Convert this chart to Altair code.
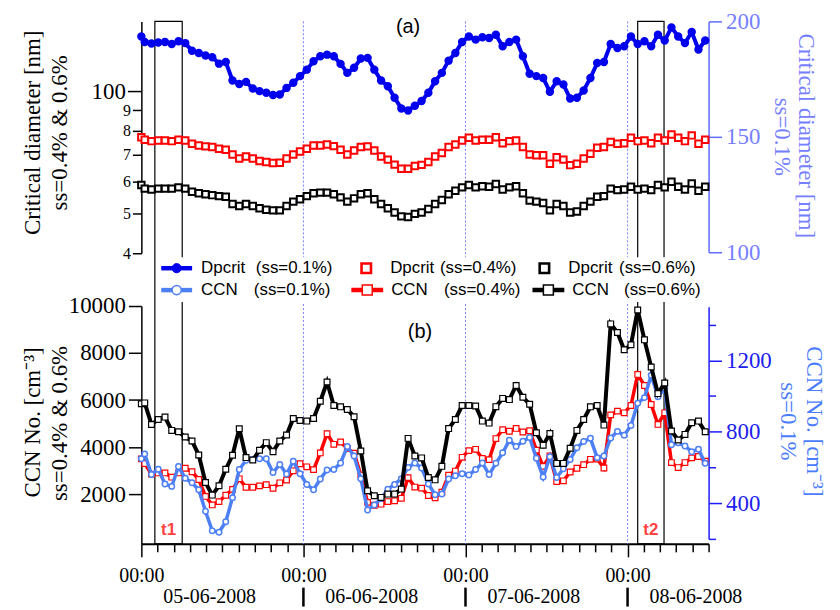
import altair as alt
import pandas as pd

# ---------------- data ----------------
# hourly means centred on the half hour, plus the starting point at 00:00 on 05-06-2008
hours = [0.0] + [k + 0.5 for k in range(84)]

# (a) critical diameter [nm]
dpcrit_01 = [193.5,
             191.1, 190.4, 190.9, 191.1, 190.2, 191.4, 190.6, 187.3, 186.3, 185.2,
             184.5, 181.7, 182.4, 174.4, 172.9, 173.8, 170.9, 169.8, 169.1, 168.1,
             168.3, 171.2, 173.4, 176.3, 179.1, 182.7, 184.9, 185.6, 184.9, 181.6,
             177.7, 179.9, 183.9, 184.2, 179.1, 174.4, 171.9, 166.9, 162.3, 161.4,
             163.5, 165.5, 169.1, 174.1, 177.7, 183.0, 186.3, 191.1, 193.5, 192.1,
             193.1, 192.8, 194.2, 189.2, 191.1, 192.1, 184.9, 177.3, 176.3, 175.5,
             169.5, 174.1, 172.7, 166.6, 166.9, 170.1, 175.5, 182.0, 182.4, 190.2,
             188.5, 189.2, 193.5, 190.2, 191.4, 189.2, 194.2, 191.7, 197.4, 193.5,
             190.6, 195.4, 187.8, 191.7]
dpcrit_04 = [77.2,
             76.1, 75.5, 75.8, 75.8, 75.5, 76.1, 75.8, 74.4, 73.7, 73.3,
             73.0, 72.3, 71.9, 70.0, 68.4, 69.2, 68.4, 67.5, 67.1, 66.7,
             66.8, 68.4, 70.0, 71.2, 72.3, 73.7, 73.7, 74.1, 73.4, 71.9,
             70.0, 71.6, 73.0, 73.3, 71.6, 69.2, 68.0, 66.1, 64.6, 64.6,
             65.6, 66.0, 67.1, 69.2, 70.6, 73.0, 74.1, 75.8, 77.0, 75.8,
             76.1, 76.1, 77.2, 74.6, 75.5, 75.8, 73.0, 70.0, 69.7, 69.7,
             66.4, 68.9, 68.0, 65.9, 66.4, 68.4, 70.3, 72.7, 73.0, 75.1,
             74.4, 74.6, 77.0, 75.5, 75.8, 74.6, 77.0, 75.8, 78.4, 77.0,
             75.5, 78.0, 74.4, 76.1]
dpcrit_06 = [58.9,
             57.7, 57.4, 57.7, 57.7, 57.7, 58.1, 57.7, 56.7, 56.2, 55.9,
             55.6, 55.3, 55.1, 52.9, 52.3, 52.9, 52.3, 51.6, 51.2, 51.0,
             51.0, 52.3, 53.6, 54.3, 55.3, 56.2, 56.4, 56.4, 55.9, 54.9,
             53.6, 54.6, 55.9, 56.2, 54.3, 52.9, 51.6, 50.4, 49.3, 49.1,
             50.0, 50.4, 51.4, 52.9, 54.1, 55.9, 57.0, 58.1, 58.9, 58.1,
             58.5, 58.3, 59.2, 57.4, 58.1, 58.5, 56.2, 53.9, 53.6, 53.2,
             51.0, 52.9, 52.3, 50.4, 50.7, 52.3, 53.6, 55.1, 55.3, 57.7,
             57.2, 57.4, 58.3, 57.4, 57.7, 57.2, 58.9, 58.1, 60.0, 58.3,
             57.4, 59.4, 57.0, 58.3]

# (b) CCN number concentration [cm-3]
ccn_01 = [649,
          676, 560, 590, 507, 494, 605, 540, 514, 475, 355,
          245, 237, 296, 431, 588, 640, 644, 649, 649, 572,
          616, 563, 635, 565, 505, 475, 535, 586, 588, 625,
          717, 664, 537, 362, 390, 426, 478, 505, 537, 600,
          625, 597, 508, 447, 451, 535, 554, 565, 558, 588,
          625, 560, 623, 682, 752, 717, 747, 768, 651, 546,
          660, 544, 593, 645, 710, 745, 763, 655, 664, 765,
          802, 780, 835, 960, 991, 1116, 996, 1043, 727, 738,
          720, 688, 702, 623]
ccn_04 = [3500,
          3300, 2850, 2900, 2900, 2720, 2900, 3100, 2950, 2620, 1900,
          1540, 1680, 1950, 2200, 2650, 2290, 2290, 2350, 2400, 2250,
          2480, 2600, 2990, 3290, 3160, 3040, 3750, 4568, 4117, 4215,
          3940, 3740, 2810, 1648, 1527, 1570, 1683, 1718, 1820, 2700,
          2300, 2254, 1940, 1845, 2085, 2805, 2980, 3565, 3850, 3905,
          3517, 3467, 4363, 4738, 4674, 4794, 4640, 4695, 3870, 3180,
          3620, 2530, 2565, 2940, 3100, 3250, 3480, 3490, 3110, 5370,
          5528, 5457, 5767, 7090, 6620, 5810, 4963, 5457, 3340, 3129,
          3340, 3540, 3600, 3400]
ccn_06 = [5840,
          5880, 4963, 5175, 5274, 4709, 4653, 4427, 4258, 3665, 2494,
          1958, 2353, 3058, 3651, 4780, 3552, 3453, 3862, 4187, 3806,
          4258, 4512, 5217, 5132, 5104, 5217, 5951, 6769, 5767, 5711,
          5598, 5288, 3834, 2141, 1930, 1859, 2000, 2000, 2212, 4370,
          3623, 3540, 2705, 2607, 3180, 4785, 5175, 5767, 5770, 5750,
          5104, 5020, 5720, 6070, 6020, 6620, 6120, 5820, 4610, 4080,
          4575, 3305, 3305, 3947, 4709, 5175, 5711, 5767, 4935, 9239,
          8872, 8138, 8350, 9831, 8561, 7404, 6275, 6727, 4681, 4300,
          4540, 5034, 5104, 4653]

day_starts = [0, 24, 48, 72]
date_labels = ["05-06-2008", "06-06-2008", "07-06-2008", "08-06-2008"]
box_start = [2.0, 73.5]
box_end = [6.05, 77.4]
box_mid = [4.03, 75.45]
box_labels = ["t1", "t2"]

# ---------------- tables ----------------
df = pd.DataFrame({"t": hours, "dp01": dpcrit_01, "dp04": dpcrit_04, "dp06": dpcrit_06,
                   "c01": ccn_01, "c04": ccn_04, "c06": ccn_06})
days = pd.DataFrame({"t": day_starts, "label": date_labels})
midnights = days[days["t"] > 0]
boxes = pd.DataFrame({"t": box_start, "t_end": box_end, "label": box_labels})
box_lab = pd.DataFrame({"t": box_mid, "label": box_labels})
one = pd.DataFrame({"z": [0]})

SERIF = "Liberation Serif"
SANS = "Liberation Sans"
W, H = 570, 525

# ---------------- scales & axes ----------------
xticks = [round(i * 2.4, 1) for i in range(36)]
x_axis = alt.Axis(values=xticks, labelExpr="datum.value % 24 == 0 ? '00:00' : ''",
                  tickSize={"condition": {"test": "datum.value % 24 == 0", "value": 13}, "value": 8},
                  labelFont=SERIF, labelFontSize=20, labelPadding=9, labelColor="black",
                  tickColor="black", domainColor="black", domainWidth=2, tickWidth=1.5,
                  grid=False, title=None, labelOverlap=False, labelFlush=False)
XS = alt.Scale(domain=[0, 84], nice=False, zero=False)
X = alt.X("t:Q", scale=XS, axis=x_axis)

s_top_right = alt.Scale(domain=[100, 200], range=[232, 0], nice=False, zero=False)
s_top_left = alt.Scale(type="log", domain=[40, 148.8], range=[233, 0], nice=False)
s_bot_left = alt.Scale(domain=[-117, 10000], range=[525, 286], nice=False, zero=False)
s_bot_right = alt.Scale(domain=[200, 1500], range=[520, 286.7], nice=False, zero=False)

ax_top_right = alt.Axis(orient="right", values=[100, 150, 200], tickSize=13, tickWidth=1.5,
                        tickColor="#5f6cff", domainColor="#5f6cff", domainWidth=1.5,
                        labelColor="#7680ff", labelFont=SERIF, labelFontSize=23, labelPadding=4,
                        grid=False, title=None, labelOverlap=False)
ax_top_left = alt.Axis(orient="left", values=[40, 50, 60, 70, 80, 90, 100],
                       labelExpr="datum.value == 100 ? '100' : format(datum.value / 10, 'd')",
                       labelFontSize={"condition": {"test": "datum.value == 100", "value": 23}, "value": 16},
                       tickSize={"condition": {"test": "datum.value == 100", "value": 14}, "value": 9},
                       tickWidth=1.5, tickColor="black", domainColor="black", domainWidth=1.5,
                       labelColor="black", labelFont=SERIF, labelPadding=2,
                       grid=False, title=None, labelOverlap=False)
ax_bot_left = alt.Axis(orient="left", values=[2000, 4000, 6000, 8000, 10000], tickSize=13,
                       tickWidth=1.5, tickColor="black", domainColor="black", domainWidth=1.5,
                       labelColor="black", labelFont=SERIF, labelFontSize=23, labelPadding=3,
                       grid=False, title=None, labelOverlap=False, format="d")
ax_bot_right = alt.Axis(orient="right", values=[200, 400, 600, 800, 1000, 1200, 1400],
                        labelExpr="datum.value % 400 == 0 ? datum.label : ''",
                        tickSize={"condition": {"test": "datum.value % 400 == 0", "value": 13}, "value": 7},
                        tickWidth=1.5, tickColor="#1d1dff", domainColor="#1d1dff", domainWidth=1.5,
                        labelColor="#2020ee", labelFont=SERIF, labelFontSize=23, labelPadding=4,
                        grid=False, title=None, labelOverlap=False, format="d")

# ---------------- background annotations ----------------
day_lines = alt.Chart(midnights).mark_rule(color="#7d7dff", strokeWidth=1, strokeDash=[2, 2]).encode(
    x=X, y=alt.value(0), y2=alt.value(H))
box_rects = alt.Chart(boxes).mark_rect(fillOpacity=0, stroke="black", strokeWidth=1.2).encode(
    x=X, x2="t_end:Q", y=alt.value(0), y2=alt.value(H))
legend_bg = alt.Chart(one).mark_rect(color="white").encode(
    x=alt.value(16), x2=alt.value(568), y=alt.value(237), y2=alt.value(282))

# ---------------- data layers ----------------
top_blue = alt.Chart(df).mark_line(
    color="#0000ee", strokeWidth=4,
    point=alt.OverlayMarkDef(filled=True, fill="#0000ee", stroke="#0000ee", size=42)).encode(
    x=X, y=alt.Y("dp01:Q", scale=s_top_right, axis=ax_top_right))
top_red = alt.Chart(df).mark_point(shape="square", filled=True, fill="white", stroke="#ff0000",
                                   strokeWidth=2, size=42, opacity=1).encode(
    x=X, y=alt.Y("dp04:Q", scale=s_top_left, axis=ax_top_left))
top_black = alt.Chart(df).mark_point(shape="square", filled=True, fill="white", stroke="black",
                                     strokeWidth=2, size=42, opacity=1).encode(
    x=X, y=alt.Y("dp06:Q", scale=s_top_left, axis=None))

bot_red = alt.Chart(df).mark_line(
    color="#ff0000", strokeWidth=3.5,
    point=alt.OverlayMarkDef(shape="square", filled=True, fill="white", stroke="#ff0000",
                             strokeWidth=1.2, size=32)).encode(
    x=X, y=alt.Y("c04:Q", scale=s_bot_left, axis=ax_bot_left))
bot_blue = alt.Chart(df).mark_line(
    color="#4d7ff5", strokeWidth=3.5,
    point=alt.OverlayMarkDef(shape="circle", filled=True, fill="white", stroke="#4d7ff5",
                             strokeWidth=1.5, size=30)).encode(
    x=X, y=alt.Y("c01:Q", scale=s_bot_right, axis=ax_bot_right))
bot_black = alt.Chart(df).mark_line(
    color="black", strokeWidth=4,
    point=alt.OverlayMarkDef(shape="square", filled=True, fill="white", stroke="black",
                             strokeWidth=1.2, size=34)).encode(
    x=X, y=alt.Y("c06:Q", scale=s_bot_left, axis=None))


# ---------------- helpers for text / legend ----------------
def txt(s, x, y, size, font=SANS, color="black", angle=0, align="center", weight="normal"):
    return alt.Chart(one).mark_text(text=s, fontSize=size, font=font, color=color, angle=angle,
                                    align=align, baseline="middle", fontWeight=weight).encode(
        x=alt.value(x), y=alt.value(y))


def hline(x1, x2, y, color, w):
    return alt.Chart(one).mark_rule(color=color, strokeWidth=w).encode(
        x=alt.value(x1), x2=alt.value(x2), y=alt.value(y))


def sym(x, y, shape, fill, stroke, size, sw):
    return alt.Chart(one).mark_point(shape=shape, filled=True, fill=fill, stroke=stroke, size=size,
                                     strokeWidth=sw, opacity=1).encode(x=alt.value(x), y=alt.value(y))


R1, R2 = 248, 270
legend = [
    hline(20, 51, R1, "#0000ee", 4.5), sym(35.5, R1, "circle", "#0000ee", "#0000ee", 85, 1),
    txt("Dpcrit", 60, R1, 17, align="left"), txt("(ss=0.1%)", 115, R1, 17, align="left"),
    hline(20, 51, R2, "#4d7ff5", 4.5), sym(35.5, R2, "circle", "white", "#4d7ff5", 85, 1.5),
    txt("CCN", 60, R2, 17, align="left"), txt("(ss=0.1%)", 113, R2, 17, align="left"),
    sym(226, R1, "square", "white", "#ff0000", 90, 2.6),
    txt("Dpcrit", 250, R1, 17, align="left"), txt("(ss=0.4%)", 300, R1, 17, align="left"),
    hline(211, 243, R2, "#ff0000", 4.5), sym(227, R2, "square", "white", "#ff0000", 100, 1.5),
    txt("CCN", 251, R2, 17, align="left"), txt("(ss=0.4%)", 304, R2, 17, align="left"),
    sym(405, R1, "square", "white", "black", 90, 2.6),
    txt("Dpcrit", 429, R1, 17, align="left"), txt("(ss=0.6%)", 480, R1, 17, align="left"),
    hline(393, 425, R2, "black", 4.5), sym(409, R2, "square", "white", "black", 100, 1.5),
    txt("CCN", 433, R2, 17, align="left"), txt("(ss=0.6%)", 485, R2, 17, align="left"),
]

labels = [
    txt("(a)", 268, 6, 20),
    txt("(b)", 280, 312, 20),
    # axis titles
    txt("Critical diameter [nm]", -109, 112, 23, font=SERIF, angle=270),
    txt("ss=0.4% & 0.6%", -82, 112, 23, font=SERIF, angle=270),
    txt("Critical diameter [nm]", 668, 115, 23, font=SERIF, color="#7680ff", angle=90),
    txt("ss=0.1%", 644, 116, 23, font=SERIF, color="#7680ff", angle=90),
    txt("CCN No. [cm⁻³]", -109, 403, 23, font=SERIF, angle=270),
    txt("ss=0.4% & 0.6%", -82, 404, 23, font=SERIF, angle=270),
    txt("CCN No. [cm⁻³]", 676, 402, 23, font=SERIF, color="#4a7cff", angle=90),
    txt("ss=0.1%", 650, 402, 23, font=SERIF, color="#4a7cff", angle=90),
]

box_text = alt.Chart(box_lab).mark_text(
    font=SANS, fontSize=17, fontWeight="bold", color="#ff4343", baseline="middle").encode(
    x=X, y=alt.value(511), text="label:N")

date_text = alt.Chart(days).mark_text(font=SERIF, fontSize=20, align="left", baseline="middle",
                                      dx=22, color="black").encode(
    x=X, y=alt.value(578), text="label:N")
date_sep = alt.Chart(midnights).mark_rule(color="black", strokeWidth=2.5).encode(
    x=X, y=alt.value(569), y2=alt.value(588))

chart = alt.layer(
    day_lines, box_rects, legend_bg,
    top_blue, top_red, top_black,
    bot_red, bot_blue, bot_black,
    *legend, *labels, box_text, date_text, date_sep,
).resolve_scale(y="independent").properties(
    width=W, height=H,
    padding={"left": 134, "top": 12, "right": 124, "bottom": 66},
    autosize=alt.AutoSizeParams(type="none"),
).configure_view(strokeWidth=0)

chart.save("out.html", embed_options={"renderer": "svg", "actions": False})
